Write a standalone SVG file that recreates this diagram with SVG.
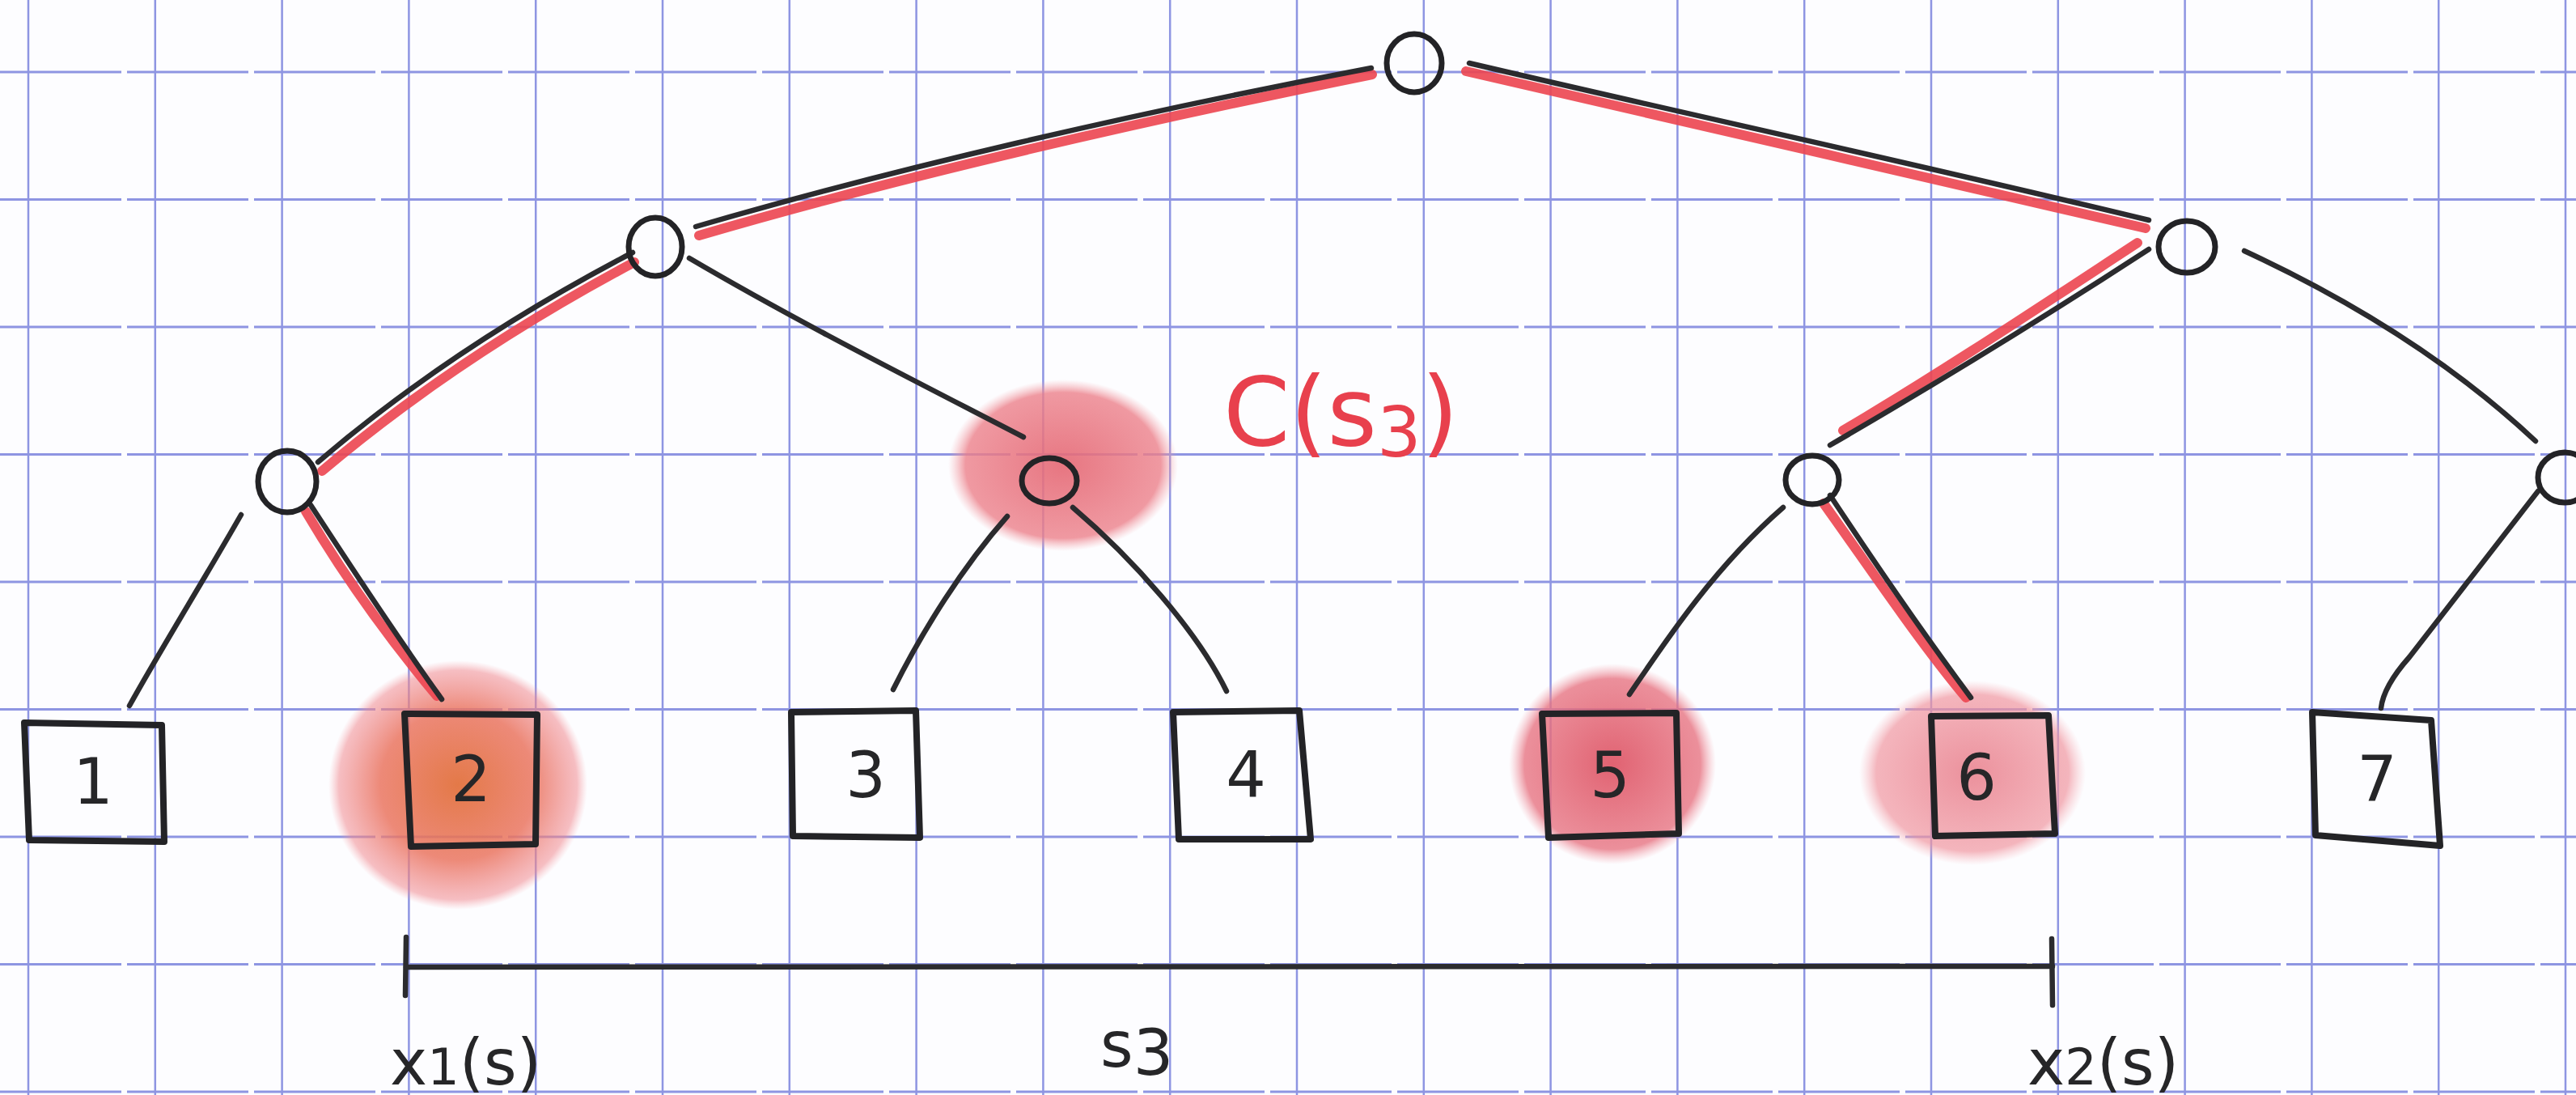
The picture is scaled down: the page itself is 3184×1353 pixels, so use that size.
<svg xmlns="http://www.w3.org/2000/svg" width="3184" height="1353" viewBox="0 0 3184 1353">
<style>
.grid{stroke:#8e95e2;stroke-width:2.5;fill:none}
.gh{stroke:#8e95e2;stroke-width:3;fill:none;stroke-dasharray:150 7}
.edge{stroke:#2b2b2e;stroke-width:6.5;fill:none;stroke-linecap:round;stroke-linejoin:round}
.hl{stroke:#ec4550;stroke-width:12;fill:none;stroke-linecap:round;opacity:0.9}
.node{fill:none;stroke:#232326;stroke-width:7}
.leaf{fill:none;stroke:#232326;stroke-width:8;stroke-linejoin:round}
.num{font-family:"DejaVu Sans","Liberation Sans",sans-serif;font-size:78px;fill:#262628;text-anchor:middle}
.lab{font-family:"DejaVu Sans","Liberation Sans",sans-serif;font-size:78px;fill:#262628}
.red{font-family:"DejaVu Sans","Liberation Sans",sans-serif;font-size:118px;fill:#e8404d}
</style>
<defs>
<radialGradient id="gOr">
<stop offset="0" stop-color="#e2723e" stop-opacity="0.95"/>
<stop offset="0.6" stop-color="#ea7560" stop-opacity="0.85"/>
<stop offset="0.92" stop-color="#f08a90" stop-opacity="0.55"/>
<stop offset="1" stop-color="#f5a0a6" stop-opacity="0"/>
</radialGradient>
<radialGradient id="gPk">
<stop offset="0" stop-color="#e56a76" stop-opacity="0.92"/>
<stop offset="0.85" stop-color="#ec808a" stop-opacity="0.8"/>
<stop offset="1" stop-color="#f4a8ae" stop-opacity="0"/>
</radialGradient>
<radialGradient id="gRd">
<stop offset="0" stop-color="#df5a6a" stop-opacity="0.95"/>
<stop offset="0.85" stop-color="#e77482" stop-opacity="0.8"/>
<stop offset="1" stop-color="#f2a0aa" stop-opacity="0"/>
</radialGradient>
<radialGradient id="gLt">
<stop offset="0" stop-color="#e87d8a" stop-opacity="0.85"/>
<stop offset="0.85" stop-color="#f096a0" stop-opacity="0.7"/>
<stop offset="1" stop-color="#f6b4bb" stop-opacity="0"/>
</radialGradient>
</defs>
<rect width="3184" height="1353" fill="#fdfdff"/>
<g id="grid">
<path class="grid" d="M35 0V1353M191.8 0V1353M348.6 0V1353M505.4 0V1353M662.2 0V1353M819 0V1353M975.8 0V1353M1132.6 0V1353M1289.4 0V1353M1446.2 0V1353M1603 0V1353M1759.8 0V1353M1916.6 0V1353M2073.4 0V1353M2230.2 0V1353M2387 0V1353M2543.8 0V1353M2700.6 0V1353M2857.4 0V1353M3014.2 0V1353M3171 0V1353"/>
<path class="gh" d="M0 89H3184M0 246.5H3184M0 404H3184M0 561.5H3184M0 719H3184M0 876.5H3184M0 1034H3184M0 1191.5H3184M0 1349H3184"/>
</g>
<g id="highlights">
<ellipse cx="566" cy="970" rx="160" ry="154" fill="url(#gOr)"/>
<ellipse cx="1314" cy="575" rx="142" ry="106" fill="url(#gPk)"/>
<ellipse cx="1993" cy="944" rx="128" ry="124" fill="url(#gRd)"/>
<ellipse cx="2438" cy="955" rx="140" ry="114" fill="url(#gLt)"/>
</g>
<g id="connectors">
<path class="hl" d="M864 291 C1100 222 1400 152 1696 92"/>
<path class="hl" d="M1812 88 C2080 152 2380 217 2652 282"/>
<path class="hl" d="M784 324 Q566 440 398 582"/>
<path class="hl" d="M2642 300 C2520 380 2400 460 2278 532"/>
<path class="hl" d="M378 632 C430 720 490 800 540 860"/>
<path class="hl" d="M2254 622 C2310 700 2370 790 2430 862"/>
<path class="edge" d="M860 280 C1100 210 1400 140 1695 84"/>
<path class="edge" d="M1816 78 C2080 140 2380 205 2656 272"/>
<path class="edge" d="M782 312 Q560 428 393 571"/>
<path class="edge" d="M852 319 C990 400 1130 470 1265 540"/>
<path class="edge" d="M2656 308 C2530 390 2400 470 2262 550"/>
<path class="edge" d="M2774 310 Q2990 410 3134 545"/>
<path class="edge" d="M298 636 C250 720 200 800 160 872"/>
<path class="edge" d="M384 624 C440 710 500 800 546 864"/>
<path class="edge" d="M1245 638 C1190 700 1140 780 1104 852"/>
<path class="edge" d="M1326 627 C1400 690 1480 780 1516 854"/>
<path class="edge" d="M2204 627 C2120 700 2060 790 2014 858"/>
<path class="edge" d="M2262 612 C2320 700 2390 800 2436 862"/>
<path class="edge" d="M3137 607 L2978 812 Q2946 848 2943 875"/>
<path class="edge" d="M502 1195 C1000 1190 1600 1197 2537 1194"/>
<path class="edge" d="M502 1158 L501 1230"/>
<path class="edge" d="M2536 1160 L2537 1242"/>
</g>
<g id="n-root"><ellipse class="node" cx="1748" cy="78" rx="34" ry="36"/></g>
<g id="n-l1a"><ellipse class="node" cx="810" cy="305" rx="33" ry="36"/></g>
<g id="n-l1b"><ellipse class="node" cx="2703" cy="305" rx="35" ry="32"/></g>
<g id="n-l2a"><ellipse class="node" cx="355" cy="595" rx="36" ry="38"/></g>
<g id="n-l2b"><ellipse class="node" cx="1297" cy="594" rx="34" ry="28"/></g>
<g id="n-l2c"><ellipse class="node" cx="2240" cy="593" rx="33" ry="30"/></g>
<g id="n-l2d"><ellipse class="node" cx="3170" cy="590" rx="33" ry="31"/></g>
<g id="leaf1"><path class="leaf" d="M30 893 L200 896 L203 1040 L36 1038 Z"/><text class="num" x="115" y="993">1</text></g>
<g id="leaf2"><path class="leaf" d="M500 882 L664 883 L662 1043 L508 1046 Z" fill="#e0824e" fill-opacity="0.55"/><text class="num" x="582" y="990">2</text></g>
<g id="leaf3"><path class="leaf" d="M978 880 L1132 878 L1137 1035 L980 1033 Z"/><text class="num" x="1070" y="985">3</text></g>
<g id="leaf4"><path class="leaf" d="M1450 880 L1606 878 L1620 1037 L1457 1037 Z"/><text class="num" x="1540" y="985">4</text></g>
<g id="leaf5"><path class="leaf" d="M1906 882 L2072 881 L2075 1030 L1914 1035 Z" fill="#d94f62" fill-opacity="0.35"/><text class="num" x="1990" y="985">5</text></g>
<g id="leaf6"><path class="leaf" d="M2387 885 L2532 884 L2540 1030 L2392 1033 Z"/><text class="num" x="2443" y="988">6</text></g>
<g id="leaf7"><path class="leaf" d="M2858 880 L3005 890 L3016 1045 L2862 1032 Z"/><text class="num" x="2938" y="990">7</text></g>
<g id="labels">
<text class="red" x="1512" y="550">C(s<tspan dy="14" font-size="86">3</tspan><tspan dy="-14">)</tspan></text>
<text class="lab" x="482" y="1340">x<tspan font-size="62">1</tspan>(s)</text>
<text class="lab" x="1360" y="1318">s<tspan dy="10">3</tspan></text>
<text class="lab" x="2506" y="1340">x<tspan font-size="62">2</tspan>(s)</text>
</g>
</svg>
